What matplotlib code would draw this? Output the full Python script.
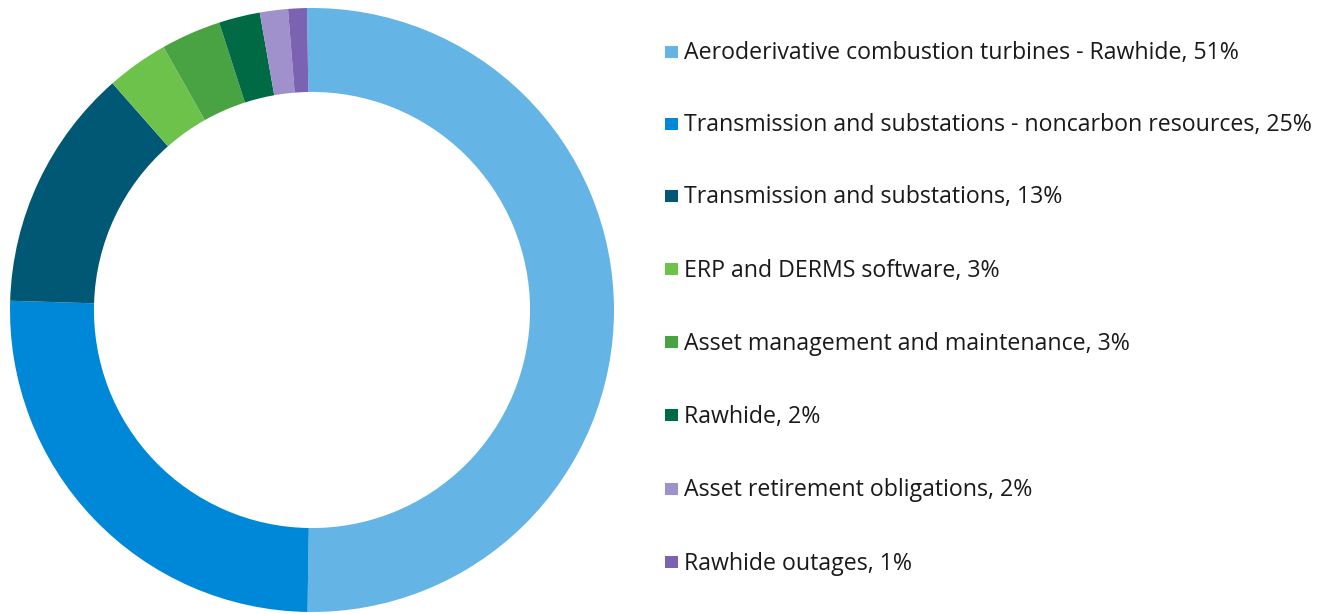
import matplotlib
matplotlib.use("Agg")
import matplotlib.pyplot as plt
from matplotlib.patches import Rectangle

categories = [
    "Aeroderivative combustion turbines - Rawhide",
    "Transmission and substations - noncarbon resources",
    "Transmission and substations",
    "ERP and DERMS software",
    "Asset management and maintenance",
    "Rawhide",
    "Asset retirement obligations",
    "Rawhide outages",
]
values = [50.4, 25.2, 13.0, 3.3, 3.2, 2.2, 1.5, 1.0]
label_pcts = [51, 25, 13, 3, 3, 2, 2, 1]
colors = ["#64B5E6", "#0088D8", "#005875", "#6DC24C", "#4AA342", "#006A45", "#A091CC", "#7B63B1"]

plt.rcParams['font.family'] = ['Open Sans', 'DejaVu Sans']

W, H = 1336, 614
fig = plt.figure(figsize=(W / 100, H / 100), dpi=100)
cx, cy, r = 312, 310, 302
ax = fig.add_axes([(cx - r) / W, (H - cy - r) / H, 2 * r / W, 2 * r / H])
ax.pie(values, colors=colors, startangle=90.95, counterclock=False, radius=1,
       wedgeprops=dict(width=0.278, edgecolor='none'))
ax.set_xlim(-1, 1)
ax.set_ylim(-1, 1)
ax.set_aspect('auto')
ax.axis('off')

row_y = [52, 124, 196, 269, 342, 415, 489, 562]
for i, (cat, p, c) in enumerate(zip(categories, label_pcts, colors)):
    y = row_y[i]
    fig.patches.append(Rectangle((665 / W, 1 - (y + 6) / H), 13 / W, 12 / H,
                                 transform=fig.transFigure, facecolor=c, edgecolor='none'))
    fig.text(684 / W, 1 - (y + 7.5) / H, f"{cat}, {p}%", fontsize=16.7, color="#1a1a1a",
             va='baseline', ha='left')

fig.savefig("out.png", dpi=100)
